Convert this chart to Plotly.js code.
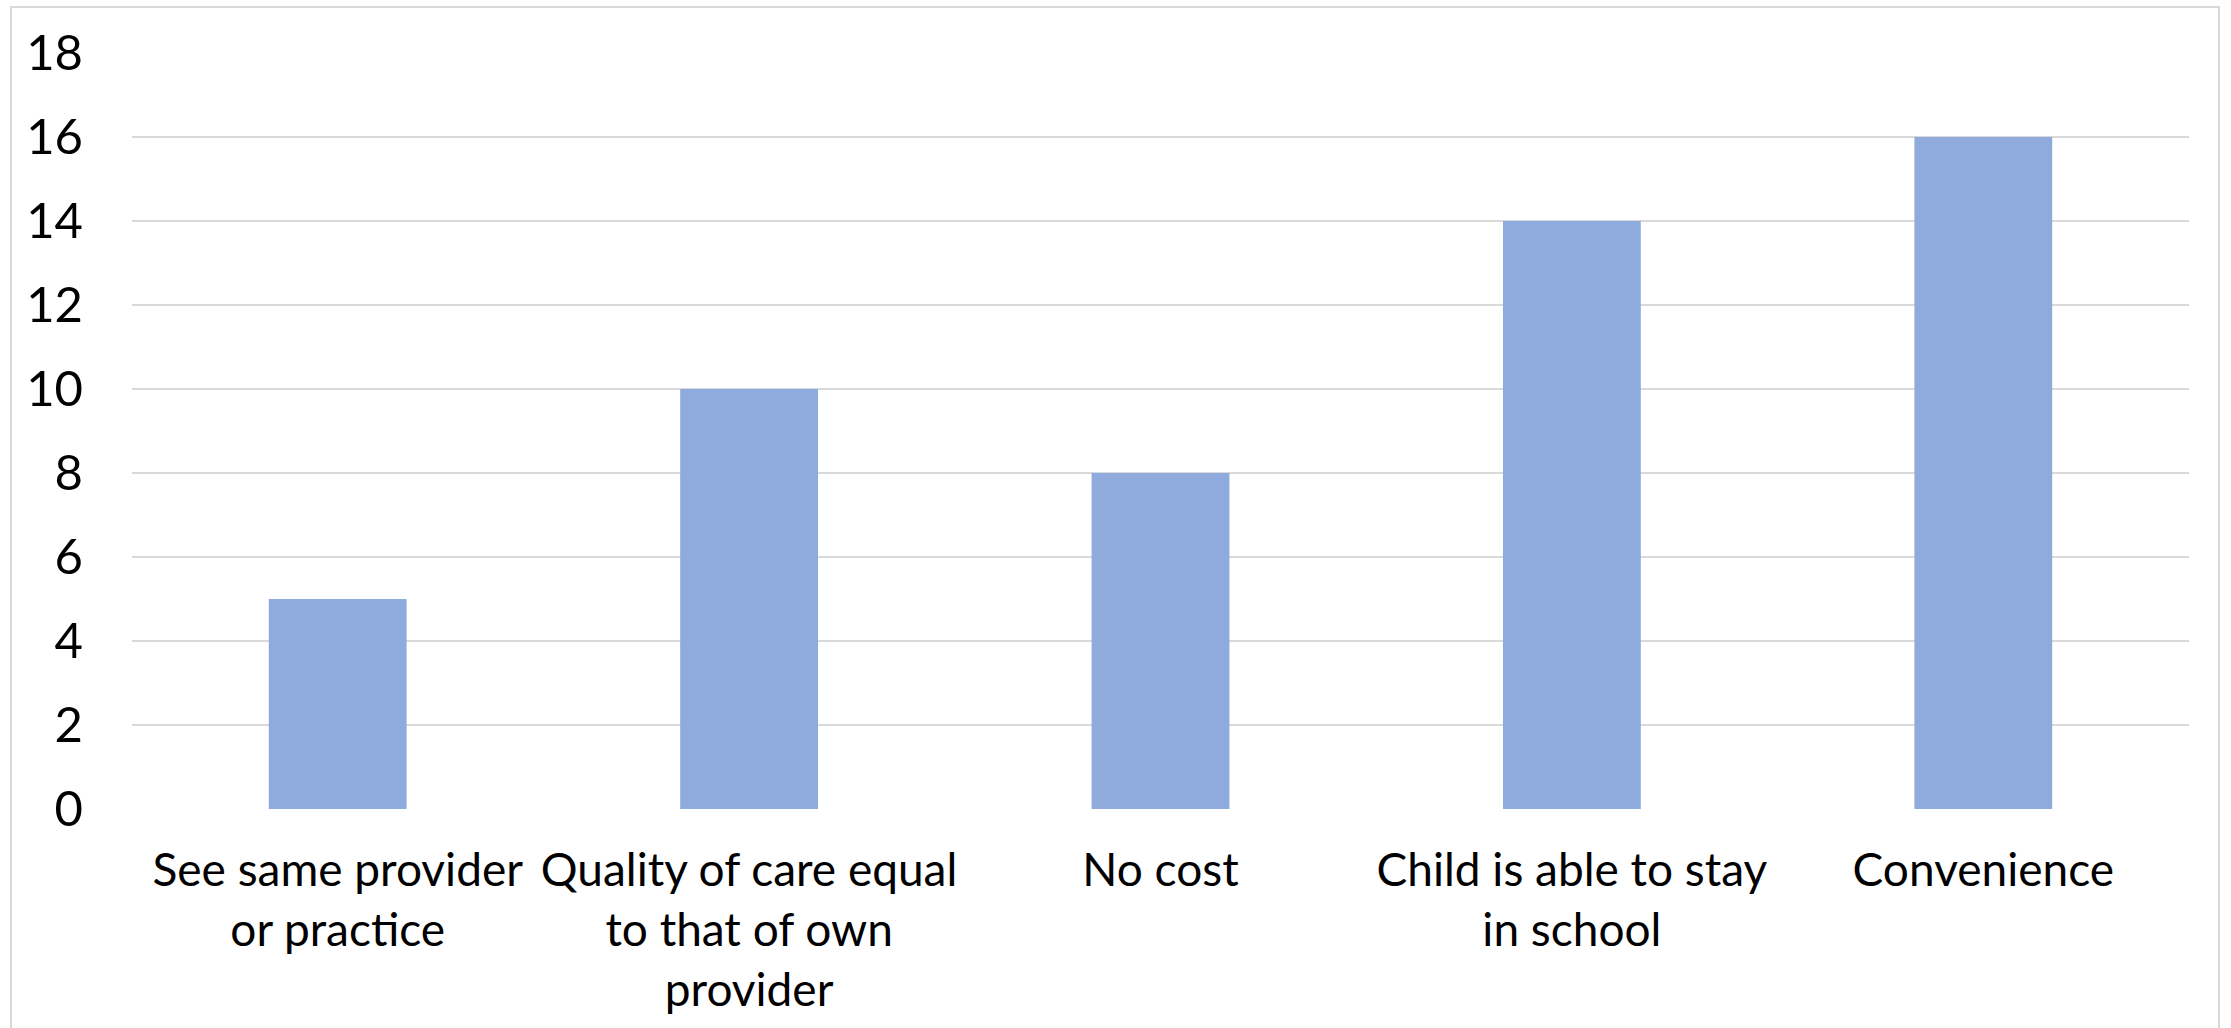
<!DOCTYPE html>
<html>
<head>
<meta charset="utf-8">
<script src="https://cdn.plot.ly/plotly-3.0.1.min.js"></script>
<style>
  html, body { margin: 0; padding: 0; background: #ffffff; }
  #chart { width: 2231px; height: 1028px; }
</style>
</head>
<body>
<div id="chart"></div>
<script>
// Reasons given for choosing the service, number of respondents
const categories = [
  "See same provider<br>or practice",
  "Quality of care equal<br>to that of own<br>provider",
  "No cost",
  "Child is able to stay<br>in school",
  "Convenience"
];
const counts = [5, 10, 8, 14, 16];
const yTicks = [0, 2, 4, 6, 8, 10, 12, 14, 16, 18];

const W = 2231, H = 1028;
const plotL = 132, plotR = 2189, plotT = 53, plotB = 809.5;
const pw = plotR - plotL, ph = plotB - plotT;

const trace = {
  type: "bar",
  x: categories,
  y: counts,
  marker: { color: "#8FAADC", line: { width: 0 } },
  hoverinfo: "x+y"
};

const layout = {
  width: W,
  height: H,
  margin: { l: plotL, r: W - plotR, t: plotT, b: H - plotB, pad: 0 },
  paper_bgcolor: "#ffffff",
  plot_bgcolor: "#ffffff",
  showlegend: false,
  bargap: 0.665,
  font: { family: "Lato, 'Open Sans', sans-serif", color: "#000000" },
  xaxis: {
    type: "category",
    showgrid: false,
    showline: false,
    zeroline: false,
    ticks: "",
    tickfont: { size: 46, color: "#000000" },
    ticklabelstandoff: 30,
    fixedrange: true
  },
  yaxis: {
    range: [0, 18],
    tickvals: yTicks,
    ticktext: yTicks.map(String),
    showgrid: true,
    gridcolor: "#D9D9D9",
    gridwidth: 1.5,
    zeroline: false,
    showline: false,
    ticks: "",
    tickfont: { size: 49, color: "#000000" },
    ticklabelstandoff: 48,
    fixedrange: true
  },
  shapes: [{
    type: "rect",
    xref: "paper", yref: "paper",
    x0: (11 - plotL) / pw,
    x1: (2219 - plotL) / pw,
    y0: (plotB - 1040) / ph,
    y1: (plotB - 7) / ph,
    line: { color: "#D9D9D9", width: 2 },
    fillcolor: "rgba(0,0,0,0)",
    layer: "below"
  }]
};

Plotly.newPlot("chart", [trace], layout, { displayModeBar: false, staticPlot: true });
</script>
</body>
</html>
